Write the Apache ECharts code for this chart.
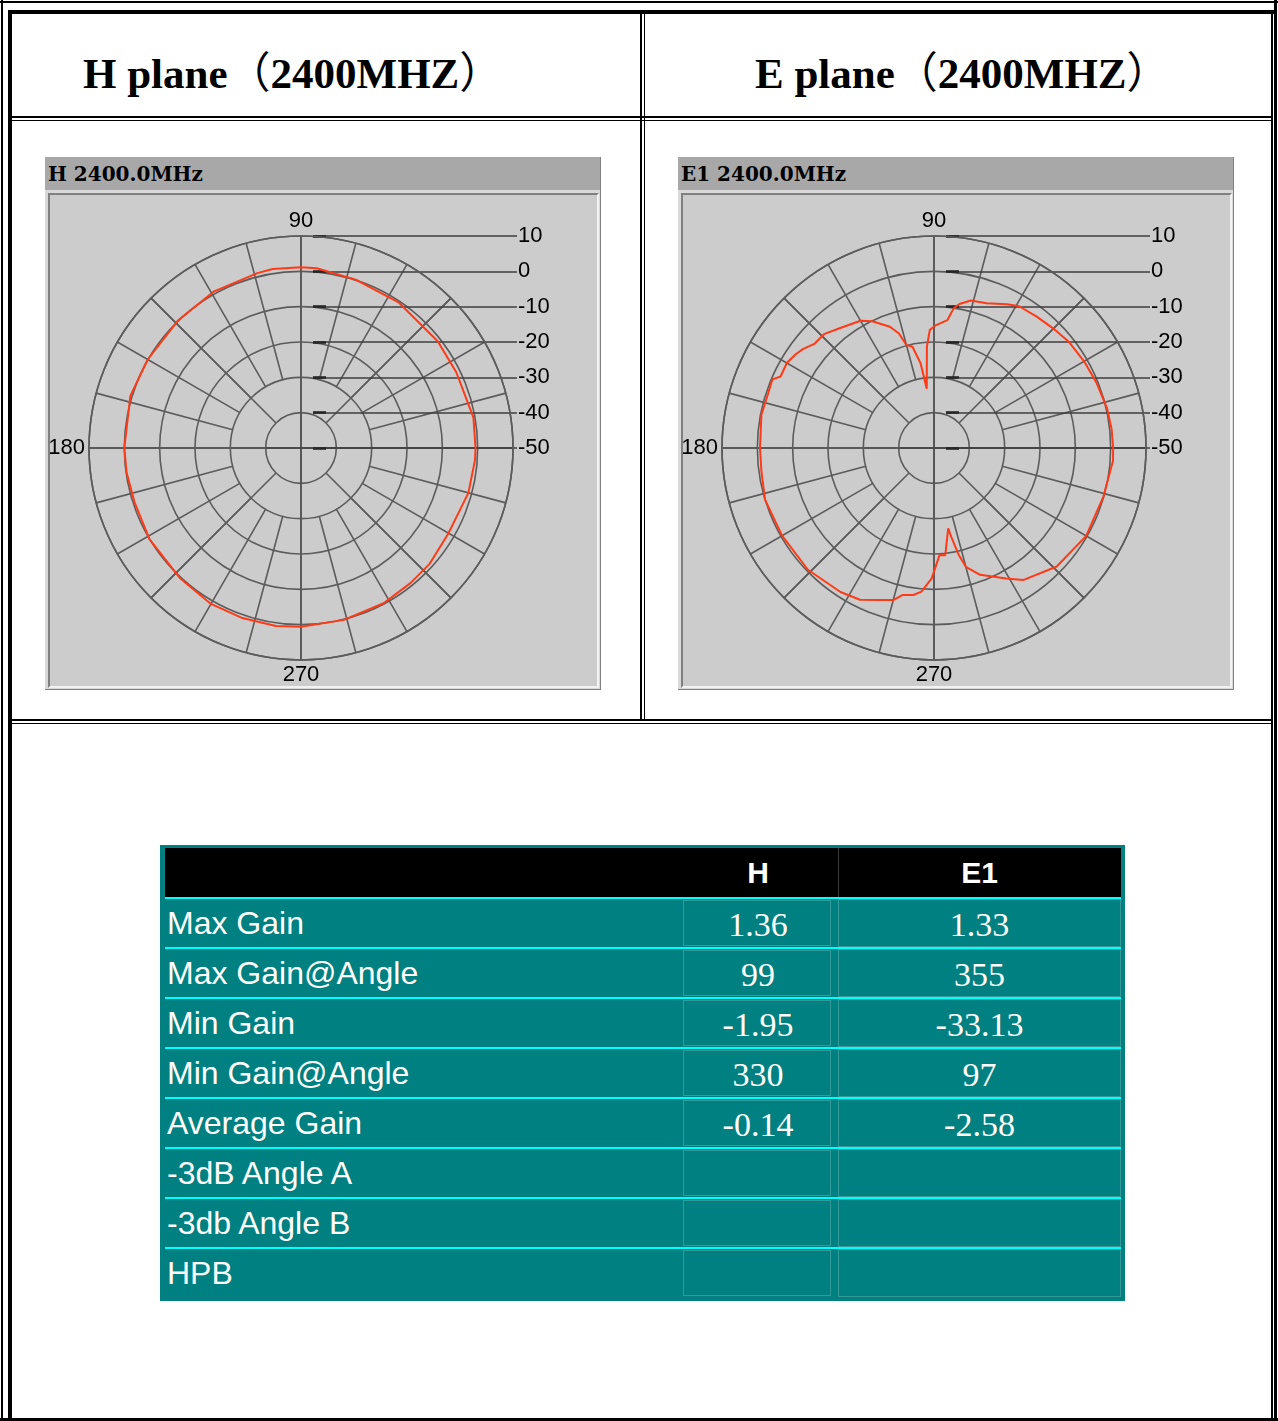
<!DOCTYPE html>
<html>
<head>
<meta charset="utf-8">
<script src="https://cdn.jsdelivr.net/npm/echarts@6.0.0/dist/echarts.min.js"></script>
<style>
html,body{margin:0;padding:0;background:#fff;}
#page{position:relative;width:1278px;height:1421px;overflow:hidden;background:#fff;}
.ln{position:absolute;background:#000;}
.hdr{position:absolute;top:48px;font-family:'Liberation Serif','Times New Roman',serif;font-weight:bold;font-size:43px;line-height:43px;color:#000;white-space:nowrap;}
.hdr .fw{font-family:'Noto Sans CJK SC','Noto Sans CJK JP',sans-serif;font-weight:normal;}
.panel{position:absolute;top:157px;width:556px;height:533px;background:#d9d9d9;box-sizing:border-box;border-right:1px solid #808080;border-bottom:1px solid #808080;}
.ptitle{position:absolute;left:0;top:0;width:555px;height:33px;background:#a8a8a8;font-family:'DejaVu Serif',serif;font-weight:bold;font-size:20px;line-height:34px;padding-left:3px;box-sizing:border-box;color:#000;white-space:nowrap;}
.frame{position:absolute;left:3px;top:36px;width:551px;height:495px;box-sizing:border-box;border-style:solid;border-width:2px;border-color:#808080 #f2f2f2 #f2f2f2 #808080;background:#cccccc;overflow:hidden;}
.chart{position:absolute;left:0;top:0;width:547px;height:491px;}
#tbl{position:absolute;left:160px;top:845px;width:965px;height:456px;background:#008080;}
#tbl div{position:absolute;box-sizing:border-box;}
.thead{left:5px;top:3px;width:956px;height:49px;background:#000;}
.cyan{left:5px;width:956px;height:2px;background:#00ffff;}
.lab{left:7px;height:48px;line-height:48px;font-family:'Liberation Sans',Arial,sans-serif;font-size:32px;color:#fff;white-space:nowrap;}
.val{height:48px;line-height:48px;padding-top:2px;text-align:center;font-family:'Liberation Serif','Times New Roman',serif;font-size:34px;color:#fff;white-space:nowrap;}
.cellb{border:1px solid rgba(255,255,255,0.2);}
.colh{top:3px;height:49px;line-height:49px;text-align:center;font-family:'Liberation Sans',Arial,sans-serif;font-weight:bold;font-size:30px;color:#fff;}
</style>
</head>
<body>
<div id="page"></div>
<script>
// ---------------- data ----------------
const SECTION_NAMES = ['H plane', 'E plane'];
const SECTION_FREQ = '2400MHZ';
const PANEL_TITLES = ['H 2400.0MHz', 'E1 2400.0MHz'];

// radial scale (dB) and angle labels
const RADIUS_MIN = -50;
const RADIUS_MAX = 10;
const RADIUS_STEP = 10;
const ANGLE_LABELS = [90, 180, 270];

// H plane pattern (angle deg, gain dB)
const H_ANGLES = [0, 10, 26, 38, 56, 72, 85, 90, 99, 104, 119, 134, 150, 163, 180, 188, 198, 211, 227, 240, 251, 262, 270, 284, 298, 309, 318, 330, 345, 356, 360];
const H_GAIN   = [-0.6, -0.45, -1.1, -0.9, -0.4, 0.1, 1.05, 1.15, 1.3, 1.0, 0.7, 0.15, 0.1, 0.5, 0.0, -0.15, -0.45, 0.05, 0.3, 0.95, 0.9, 0.86, 0.6, 0.13, -0.24, -0.8, -1.0, -1.8, -0.95, -0.64, -0.6];

// E1 plane pattern (angle deg, gain dB)
const E_ANGLES = [0, 6, 13, 22, 30, 38, 45, 52, 59, 63, 70, 76, 80, 82, 84, 89, 92, 94, 97, 99, 102, 105, 107, 110, 116, 120, 128, 134, 139, 143, 146, 150, 155, 157, 162, 169, 180, 188, 197, 210, 224, 237, 244, 250, 255, 258, 262, 265, 269, 273, 276, 280, 281, 283, 285, 290, 299, 304, 316, 330, 344, 356, 360];
const E_GAIN   = [0.7, 0.55, 0.25, -0.45, -0.95, -1.4, -2.2, -2.8, -3.2, -4.35, -6.4, -7.0, -8.6, -10.1, -13.6, -15.2, -16.5, -21.2, -33.1, -25.7, -20.7, -19.8, -16.1, -13.5, -10.1, -8.4, -6.9, -5.2, -5.1, -3.5, -2.7, -1.9, -2.1, -0.3, -0.6, -0.25, -0.75, -0.7, 0.0, -0.35, -0.4, -1.4, -2.2, -4.2, -5.45, -7.5, -8.0, -9.2, -13.1, -19.7, -19.5, -26.9, -24.4, -19.0, -15.2, -11.8, -7.8, -4.9, -1.7, -0.26, -0.13, 0.8, 0.7];

// statistics table
const TABLE_COLS = ['H', 'E1'];
const TABLE_ROWS = ['Max Gain', 'Max Gain@Angle', 'Min Gain', 'Min Gain@Angle', 'Average Gain', '-3dB Angle A', '-3db Angle B', 'HPB'];
const H_STATS  = ['1.36', '99', '-1.95', '330', '-0.14', '', '', ''];
const E1_STATS = ['1.33', '355', '-33.13', '97', '-2.58', '', '', ''];

// ---------------- page frame ----------------
const page = document.getElementById('page');
function line(l, t, w, h) {
  const d = document.createElement('div');
  d.className = 'ln';
  d.style.left = l + 'px'; d.style.top = t + 'px';
  d.style.width = w + 'px'; d.style.height = h + 'px';
  page.appendChild(d);
}
// outer double border
line(0, 1, 1278, 2);
line(8, 10, 1266, 4);
line(1, 0, 2, 1421);
line(8, 10, 4, 1411);
line(1271, 10, 2, 1411);
line(1274, 0, 3, 1421);
line(0, 1418, 1278, 3);
// header divider
line(12, 116, 1259, 2);
line(12, 120, 1259, 1);
// column divider
line(640, 14, 2, 707);
line(644, 14, 1, 707);
// chart row divider
line(12, 719, 1259, 2);
line(12, 723, 1259, 1);

// section titles
[83, 755].forEach((x, i) => {
  const d = document.createElement('div');
  d.className = 'hdr';
  d.style.left = x + 'px';
  d.appendChild(document.createTextNode(SECTION_NAMES[i]));
  const o = document.createElement('span'); o.className = 'fw'; o.textContent = '（';
  d.appendChild(o);
  d.appendChild(document.createTextNode(SECTION_FREQ));
  const c = document.createElement('span'); c.className = 'fw'; c.textContent = '）';
  d.appendChild(c);
  page.appendChild(d);
});

// chart panels
const chartDoms = [];
[45, 678].forEach((x, i) => {
  const p = document.createElement('div');
  p.className = 'panel';
  p.style.left = x + 'px';
  const t = document.createElement('div');
  t.className = 'ptitle';
  t.textContent = PANEL_TITLES[i];
  p.appendChild(t);
  const f = document.createElement('div');
  f.className = 'frame';
  const c = document.createElement('div');
  c.className = 'chart';
  f.appendChild(c);
  p.appendChild(f);
  page.appendChild(p);
  chartDoms.push(c);
});

// ---------------- polar charts ----------------
const LABEL_FONT = "'Liberation Sans', Arial, sans-serif";
function polarOption(angles, gains) {
  const center = [251, 253];
  const R = 212;
  const span = RADIUS_MAX - RADIUS_MIN;
  const r40 = R * RADIUS_STEP / span;
  const r30 = R * 2 * RADIUS_STEP / span;
  const gridColor = '#5c5c5c';
  const leadStart = center[0] + 12;   // leader lines start a little right of the 90° spoke
  const leadLen = 204;
  const deco = (idx, interval) => ({
    polarIndex: idx, type: 'value', min: 0, max: 360, interval: interval,
    startAngle: 0, clockwise: false,
    axisLine: { show: false }, axisTick: { show: false }, axisLabel: { show: false },
    splitLine: { show: true, lineStyle: { color: gridColor, width: 1.6 } }
  });
  const yBase = {
    type: 'value', min: RADIUS_MIN, max: RADIUS_MAX, interval: RADIUS_STEP,
    axisLine: { show: false }, axisTick: { show: false }
  };
  return {
    animation: false,
    polar: [
      { center: center, radius: R },
      { center: center, radius: [r40, R] },
      { center: center, radius: [r30, R] }
    ],
    angleAxis: [
      {
        polarIndex: 0, type: 'value', min: 0, max: 360, interval: 90,
        startAngle: 0, clockwise: false,
        axisLine: { show: true, lineStyle: { color: gridColor, width: 1.6 } },
        axisTick: { show: false },
        axisLabel: {
          show: true, margin: 4, color: '#000', fontSize: 22, fontFamily: LABEL_FONT,
          formatter: v => ANGLE_LABELS.indexOf(v) >= 0 ? String(v) : ''
        },
        splitLine: { show: true, lineStyle: { color: '#4a4a4a', width: 1.8 } }
      },
      deco(1, 45),
      deco(2, 15)
    ],
    radiusAxis: [
      {
        polarIndex: 0, type: 'value', min: RADIUS_MIN, max: RADIUS_MAX, interval: RADIUS_STEP,
        axisLine: { show: false }, axisTick: { show: false }, axisLabel: { show: false },
        splitLine: { show: true, lineStyle: { color: gridColor, width: 1.6 } }
      },
      { polarIndex: 1, type: 'value', min: 0, max: 1, show: false },
      { polarIndex: 2, type: 'value', min: 0, max: 1, show: false }
    ],
    grid: [
      { left: leadStart, top: center[1] - R, width: leadLen, height: R, outerBoundsMode: 'none', containLabel: false },
      { left: leadStart, top: center[1] - R, width: 13, height: R, outerBoundsMode: 'none', containLabel: false }
    ],
    xAxis: [
      { gridIndex: 0, type: 'value', min: 0, max: 1, show: false },
      { gridIndex: 1, type: 'value', min: 0, max: 1, show: false }
    ],
    yAxis: [
      Object.assign({}, yBase, {
        gridIndex: 0, position: 'right',
        axisLabel: { show: true, margin: 1, color: '#000', fontSize: 22, fontFamily: LABEL_FONT, showMinLabel: true, showMaxLabel: true, hideOverlap: false },
        splitLine: { show: true, showMinLine: true, showMaxLine: true, lineStyle: { color: '#3e3e3e', width: 1.6 } }
      }),
      Object.assign({}, yBase, {
        gridIndex: 1, position: 'left',
        axisLabel: { show: false },
        splitLine: { show: true, showMinLine: true, showMaxLine: true, lineStyle: { color: '#262626', width: 2.6 } }
      })
    ],
    series: [{
      type: 'line', coordinateSystem: 'polar', polarIndex: 0,
      data: angles.map((a, i) => [gains[i], a]),
      symbol: 'none', smooth: false, z: 10,
      lineStyle: { color: '#ff3a17', width: 2 }
    }]
  };
}
echarts.init(chartDoms[0], null, { renderer: 'canvas' }).setOption(polarOption(H_ANGLES, H_GAIN));
echarts.init(chartDoms[1], null, { renderer: 'canvas' }).setOption(polarOption(E_ANGLES, E_GAIN));

// ---------------- statistics table ----------------
const tbl = document.createElement('div');
tbl.id = 'tbl';
page.appendChild(tbl);
function add(cls, css, text) {
  const d = document.createElement('div');
  d.className = cls;
  Object.assign(d.style, css);
  if (text !== undefined) d.textContent = text;
  tbl.appendChild(d);
  return d;
}
add('thead', {});
add('', { left: '678px', top: '3px', width: '1px', height: '49px', background: '#3c3c3c' });
const COL_LEFT = [518, 678];
const COL_WIDTH = [160, 283];
TABLE_COLS.forEach((c, i) => add('colh', { left: COL_LEFT[i] + 'px', width: COL_WIDTH[i] + 'px' }, c));
const STATS = [H_STATS, E1_STATS];
TABLE_ROWS.forEach((r, k) => {
  const top = 54 + 50 * k;
  add('cyan', { top: (top - 2) + 'px' });
  add('lab', { top: top + 'px' }, r);
  add('cellb', { left: '523px', top: (top + 1) + 'px', width: '148px', height: '46px' });
  add('cellb', { left: '678px', top: top + 'px', width: '283px', height: '48px' });
  STATS.forEach((s, i) => add('val', { left: COL_LEFT[i] + 'px', top: top + 'px', width: COL_WIDTH[i] + 'px' }, s[k]));
});
</script>
</body>
</html>
